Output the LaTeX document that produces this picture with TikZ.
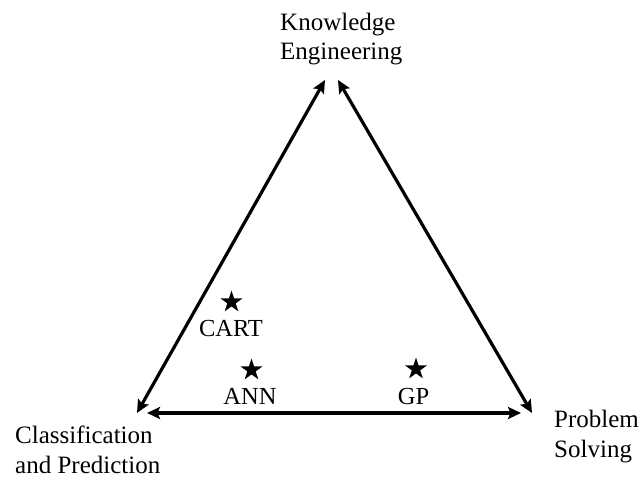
\documentclass[tikz,border=0pt]{standalone}
\usepackage{fontspec}
\setmainfont{Liberation Serif}
\usetikzlibrary{arrows.meta,shapes.geometric}
\tikzset{
  lbl/.style={inner sep=0pt, align=left, font=\fontsize{25}{29.5}\selectfont},
  mlbl/.style={inner sep=0pt, font=\fontsize{24.5}{29}\selectfont, anchor=base},
  starmark/.style={star, star points=5, star point ratio=2.618, fill=black, draw=none, minimum size=23pt, inner sep=0pt},
  edge/.style={line width=3.2pt, {Stealth[length=13pt,width=12pt,inset=2.5pt]}-{Stealth[length=13pt,width=12pt,inset=2.5pt]}}
}
\begin{document}
\begin{tikzpicture}[x=1pt,y=-1pt]
\useasboundingbox (0,0) rectangle (643,478);
% corners
\coordinate (TL) at (325,80);
\coordinate (TR) at (338,80);
\coordinate (LD) at (137,413);
\coordinate (LH) at (147,413);
\coordinate (RH) at (521,413);
\coordinate (RD) at (532,413);
% labels (anchor = baseline of last line)
\node[lbl, anchor=base west] (KE) at (280,60) {Knowledge\\Engineering};
\node[lbl, anchor=base west] (CP) at (15,473) {Classification\\and Prediction};
\node[lbl, anchor=base west] (PS) at (554,457) {Problem\\Solving};
% arrows
\draw[edge] (LD) -- (TL);
\draw[edge] (TR) -- (RD);
\draw[edge] (LH) -- (RH);
% stars
\node[starmark] (s1) at (231.5,302) {};
\node[starmark] (s2) at (251.5,370) {};
\node[starmark] (s3) at (416,369) {};
\node[mlbl] (cart) at (231,336.5) {CART};
\node[mlbl] (ann) at (250,405) {ANN};
\node[mlbl] (gp) at (413.5,405) {GP};
\end{tikzpicture}
\end{document}
